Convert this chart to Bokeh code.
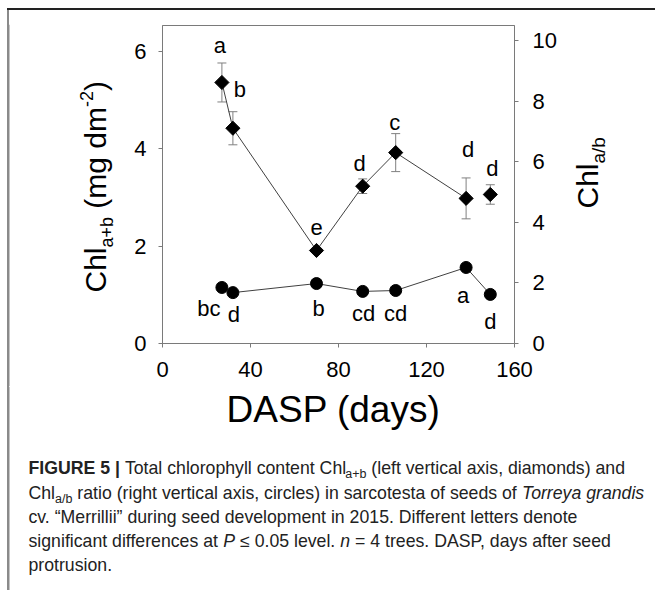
import numpy as np
from bokeh.plotting import figure
from bokeh.layouts import column, row
from bokeh.models import (Range1d, LinearAxis, FixedTicker, ColumnDataSource,
                          Whisker, TeeHead, Spacer)
from bokeh.core.properties import value
from bokeh.embed import file_html
from bokeh.resources import INLINE

# ---------------- data ----------------
dasp = [27, 32, 70, 91, 106, 138, 149]
chl_total = [5.36, 4.42, 1.91, 3.23, 3.92, 2.98, 3.06]
chl_total_err = [0.40, 0.34, 0.0, 0.15, 0.39, 0.42, 0.20]
chl_ratio = [1.85, 1.68, 1.98, 1.72, 1.75, 2.51, 1.62]
letters_total = ["a", "b", "e", "d", "c", "d", "d"]
letters_ratio = ["bc", "d", "b", "cd", "cd", "a", "d"]
x_ticks = [0, 40, 80, 120, 160]
left_ticks = [0, 2, 4, 6]
right_ticks = [0, 2, 4, 6, 8, 10]

# ---------------- layout helpers ----------------
total_dx = [-2, 7, 0, -3, -1, 2, 2]
total_dy = [-37, -39, -23, -23, -30, -49, -26]
ratio_dx = [-13, 1, 2, 1, 0, -3, 0]
ratio_dy = [21, 22, 25, 22, 23, 28, 27]

FONT = "Liberation Sans"
MID = 0.3465  # distance of the text-box middle above the baseline (em)
PAGE_W = 655
TOP_H = 24
ROW_Y0, ROW_Y1 = 24, 386
LEFT_W, MAIN_W = 120, 440
RIGHT_W = PAGE_W - LEFT_W - MAIN_W
BOT_Y0, BOT_Y1 = 386, 590

AR = {' ': 278, '!': 278, '(': 333, ')': 333, '+': 584, ',': 278, '-': 333,
      '.': 278, '/': 278, ':': 278, '=': 584, '|': 260, '\u201c': 333,
      '\u201d': 333, '\u2264': 549}
for c in "0123456789":
    AR[c] = 556
for c, w in zip("ABCDEFGHIJKLMNOPQRSTUVWXYZ",
                [667, 667, 722, 722, 667, 611, 778, 722, 278, 500, 667, 556, 833,
                 722, 778, 667, 778, 722, 667, 611, 722, 667, 944, 667, 667, 611]):
    AR[c] = w
for c, w in zip("abcdefghijklmnopqrstuvwxyz",
                [556, 556, 500, 556, 556, 278, 556, 556, 222, 222, 500, 222, 833,
                 556, 556, 556, 556, 333, 500, 278, 556, 500, 722, 500, 500, 500]):
    AR[c] = w
ARB = dict(AR)
ARB.update({'A': 722, 'B': 722, 'R': 722, 'U': 722, '|': 280})


def tw(s, size, bold=False):
    t = ARB if bold else AR
    return sum(t.get(c, 556) for c in s) * size / 1000.0


def blank_fig(x0, x1, y0, y1):
    f = figure(width=x1 - x0, height=y1 - y0, output_backend="svg",
               toolbar_location=None, title=None,
               x_range=Range1d(x0, x1), y_range=Range1d(y1, y0),
               x_axis_type=None, y_axis_type=None, min_border=0,
               frame_align=False)
    f.outline_line_color = None
    f.background_fill_color = None
    f.border_fill_color = None
    return f


def put_text(f, x, y, s, size, style="normal", angle=0.0, color="black",
             align="left"):
    f.text(x=[x], y=[y], text=[s], angle=angle, text_align=align,
           text_baseline="middle", text_font=value(FONT),
           text_font_size=f"{size}px", text_font_style=style,
           text_color=color)


def vlabel(f, pieces, base_x, start_y):
    """Rotated (reading upwards) label; base_x = baseline x, start_y = start."""
    y = start_y
    for s, size, shift in pieces:
        lead = len(s) - len(s.lstrip(" "))
        y -= lead * tw(" ", size)
        core = s.strip(" ")
        w = tw(core, size)
        put_text(f, base_x + shift - MID * size, y - w / 2, core, size,
                 angle=np.pi / 2, align="center")
        y -= w


BORDER_DARK = "#222222"
BORDER_GREY = "#8a8a8a"


def left_border(f, y0, y1):
    f.quad(left=[7], right=[9], top=[y0], bottom=[y1], fill_color=BORDER_GREY,
           line_color=None)


# ---------------- top strip (transparent; rule drawn by the page background) ----
top_strip = Spacer(width=PAGE_W, height=TOP_H)

# ---------------- left label panel ----------------
f_left = blank_fig(0, LEFT_W, ROW_Y0, ROW_Y1)
left_border(f_left, ROW_Y0, ROW_Y1)
vlabel(f_left, [("Chl", 30, 0), ("a+b", 18, 8), (" (mg dm", 30, 0),
                ("-2", 18, -13), (")", 30, 0)], 105, 292)

# ---------------- right label panel ----------------
f_right = blank_fig(LEFT_W + MAIN_W, PAGE_W, ROW_Y0, ROW_Y1)
vlabel(f_right, [("Chl", 30, 0), ("a/b", 19, 8)], 597, 208)

# ---------------- main chart ----------------
p = figure(width=MAIN_W, height=ROW_Y1 - ROW_Y0, output_backend="svg",
           toolbar_location=None, title=None, frame_align=False,
           x_range=Range1d(0, 160), y_range=Range1d(0, 6.53),
           min_border_left=162 - LEFT_W, min_border_right=LEFT_W + MAIN_W - 514,
           min_border_top=25 - ROW_Y0, min_border_bottom=ROW_Y1 - 343)
p.extra_y_ranges = {"ratio": Range1d(0, 10.5)}
p.grid.visible = False
p.outline_line_color = "#7a7a7a"
p.outline_line_width = 1
p.background_fill_color = "white"
p.border_fill_color = None

AX_COL = "#7a7a7a"


def style_axis(ax, ticks, standoff):
    ax.ticker = FixedTicker(ticks=ticks)
    ax.axis_line_color = AX_COL
    ax.major_tick_line_color = AX_COL
    ax.major_tick_in = 0
    ax.major_tick_out = 4
    ax.minor_tick_line_color = None
    ax.major_label_text_font = FONT
    ax.major_label_text_font_size = "22px"
    ax.major_label_text_color = "black"
    ax.major_label_standoff = standoff


style_axis(p.xaxis[0], x_ticks, 14)
style_axis(p.yaxis[0], left_ticks, 12)
right_ax = LinearAxis(y_range_name="ratio")
style_axis(right_ax, right_ticks, 14)
p.add_layout(right_ax, "right")

err_idx = [i for i, e in enumerate(chl_total_err) if e > 0]
src_err = ColumnDataSource(dict(
    x=[dasp[i] for i in err_idx],
    upper=[chl_total[i] + chl_total_err[i] for i in err_idx],
    lower=[chl_total[i] - chl_total_err[i] for i in err_idx]))
ERR_COL = "#808080"
p.add_layout(Whisker(source=src_err, base="x", upper="upper", lower="lower",
                     dimension="height", line_color=ERR_COL, line_width=1,
                     upper_head=TeeHead(size=9, line_color=ERR_COL, line_width=1),
                     lower_head=TeeHead(size=9, line_color=ERR_COL, line_width=1),
                     level="underlay"))

LINE_COL = "#404040"
p.line(dasp[:6], chl_total[:6], line_color=LINE_COL, line_width=1)
p.line(dasp[1:], chl_ratio[1:], line_color=LINE_COL, line_width=1,
       y_range_name="ratio")
p.scatter(dasp, chl_total, marker="square", size=10, angle=np.pi / 4,
          fill_color="black", line_color="black")
p.scatter(dasp, chl_ratio, marker="circle", size=12, fill_color="black",
          line_color="black", y_range_name="ratio")

src_lt = ColumnDataSource(dict(x=dasp, y=chl_total, t=letters_total,
                               dx=total_dx, dy=total_dy))
src_lr = ColumnDataSource(dict(x=dasp, y=chl_ratio, t=letters_ratio,
                               dx=ratio_dx, dy=ratio_dy))
for src, rn in ((src_lt, "default"), (src_lr, "ratio")):
    p.text(x="x", y="y", text="t", x_offset="dx", y_offset="dy", source=src,
           text_align="center", text_baseline="middle",
           text_font=value(FONT), text_font_size="22px", text_color="black",
           y_range_name=rn)

# ---------------- bottom panel: x label + caption ----------------
f_bot = blank_fig(0, PAGE_W, BOT_Y0, BOT_Y1)
left_border(f_bot, BOT_Y0, BOT_Y1)
XL = 37
put_text(f_bot, 333, 422 - MID * XL, "DASP (days)", XL, align="center")

CAP = 17.7
SUB = 12.5
CAP_COL = "#222222"
# (text, style, is_subscript, extra pixel nudge before the piece)
cap_lines = [
    [("FIGURE 5 |", "bold", 0, 0), (" Total chlorophyll content Chl", "normal", 0, 0),
     ("a+b", "normal", 1, -3), (" (left vertical axis, diamonds) and", "normal", 0, 0)],
    [("Chl", "normal", 0, 0), ("a/b", "normal", 1, 0),
     (" ratio (right vertical axis, circles) in sarcotesta of seeds of ", "normal", 0, 0),
     ("Torreya grandis", "italic", 0, 0)],
    [("cv. \u201cMerrillii\u201d during seed development in 2015. Different letters denote",
      "normal", 0, 0)],
    [("significant differences at ", "normal", 0, 0), ("P", "italic", 0, 0),
     (" \u2264 0.05 level. ", "normal", 0, 0), ("n", "italic", 0, 0),
     (" = 4 trees. DASP, days after seed", "normal", 0, 0)],
    [("protrusion.", "normal", 0, 0)],
]
baselines = [474, 498.5, 522.5, 546.5, 571]
for line, base in zip(cap_lines, baselines):
    x = 28
    for s, style, sub, nudge in line:
        size = SUB if sub else CAP
        bold = style == "bold"
        lead = len(s) - len(s.lstrip(" "))
        trail = len(s) - len(s.rstrip(" "))
        x += nudge + lead * tw(" ", size, bold)
        core = s.strip(" ")
        put_text(f_bot, x, base + (4 if sub else 0) - MID * size, core, size,
                 style=style, color=CAP_COL)
        x += tw(core, size, bold) + trail * tw(" ", size, bold)

# page frame: dark rule on top, grey rule on the left (drawn behind the
# transparent panels)
frame_css = ("linear-gradient(#222222, #222222) 7px 7.5px / 648px 2px no-repeat, "
             "linear-gradient(#8a8a8a, #8a8a8a) 7px 8px / 2px 582px no-repeat, "
             "white")
layout = column(top_strip, row(f_left, p, f_right, spacing=0), f_bot, spacing=0,
                styles={"background": frame_css})
open("out.html", "w").write(file_html(layout, INLINE))
